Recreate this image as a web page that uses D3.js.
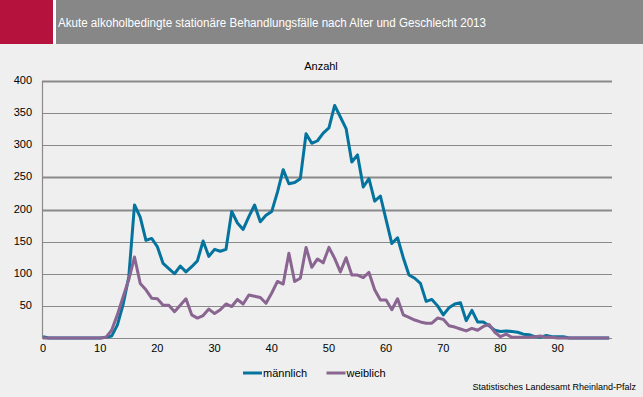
<!DOCTYPE html>
<html>
<head>
<meta charset="utf-8">
<script src="https://cdn.jsdelivr.net/npm/d3@7"></script>
<style>
    body { margin: 0; background: #eeefee; }
    svg { display: block; font-family: "Liberation Sans", Arial, sans-serif; }
</style>
</head>
<body>
<script>
// Data: cases per age (0..99), 2013
const ages = d3.range(0, 100);
const maennlich = [
    2, 0, 0, 0, 0, 0, 0, 0, 0, 0,
    0, 1, 3, 20, 52, 95, 207, 188, 152, 155,
    142, 116, 108, 100, 112, 103, 111, 120, 151, 127,
    138, 135, 138, 197, 179, 169, 189, 207, 181, 191,
    197, 227, 262, 240, 242, 248, 318, 303, 307, 319,
    327, 362, 344, 326, 274, 285, 235, 248, 213, 221,
    184, 147, 156, 125, 98, 93, 85, 57, 60, 50,
    36, 47, 53, 55, 27, 43, 25, 25, 19, 12,
    10, 11, 10, 9, 6, 5, 2, 1, 4, 2,
    2, 2, 0, 0, 0, 0, 0, 0, 0, 0
];
const weiblich = [
    0, 0, 0, 0, 0, 0, 0, 0, 0, 0,
    0, 1, 12, 36, 64, 91, 126, 85, 75, 62,
    61, 51, 51, 41, 51, 61, 36, 31, 35, 45,
    38, 44, 53, 49, 60, 53, 67, 65, 63, 54,
    70, 88, 84, 132, 88, 93, 141, 110, 123, 117,
    141, 124, 103, 125, 98, 98, 94, 102, 75, 59,
    59, 44, 61, 36, 32, 28, 25, 23, 23, 31,
    29, 19, 17, 14, 11, 15, 12, 18, 21, 9,
    2, 6, 1, 1, 1, 1, 2, 3, 1, 1,
    0, 0, 0, 0, 0, 0, 0, 0, 0, 0
];
const series = [
    { name: "männlich", values: maennlich, color: "#04739e" },
    { name: "weiblich", values: weiblich, color: "#8a6591" }
];
const yTicks = [50, 100, 150, 200, 250, 300, 350, 400];
const xTicks = [0, 10, 20, 30, 40, 50, 60, 70, 80, 90];

const width = 643, height = 397;

const svg = d3.select("body")
    .append("svg")
    .attr("width", width)
    .attr("height", height);

svg.append("rect")
    .attr("width", width)
    .attr("height", height)
    .attr("fill", "#eeefee");

// Header band
svg.append("rect")
    .attr("width", width)
    .attr("height", 44)
    .attr("fill", "#878787");
svg.append("rect")
    .attr("width", 56)
    .attr("height", 44)
    .attr("fill", "#ffffff");
svg.append("rect")
    .attr("width", 53)
    .attr("height", 44)
    .attr("fill", "#b5123e");
svg.append("text")
    .attr("x", 58)
    .attr("y", 27)
    .attr("fill", "#ffffff")
    .style("font-size", "12px")
    .attr("textLength", 428)
    .attr("lengthAdjust", "spacingAndGlyphs")
    .text("Akute alkoholbedingte stationäre Behandlungsfälle nach Alter und Geschlecht 2013");

// Scales
const x = d3.scaleLinear().domain([0, 99.5]).range([43, 612]);
const y = d3.scaleLinear().domain([0, 400]).range([338, 81]);

// Gridlines
svg.append("g")
    .selectAll("line")
    .data(yTicks)
    .enter()
    .append("line")
    .attr("x1", 42)
    .attr("x2", 612)
    .attr("y1", d => Math.round(y(d)) + 0.5)
    .attr("y2", d => Math.round(y(d)) + 0.5)
    .attr("stroke", "#8a8a8a")
    .attr("stroke-width", d => (d === 400 || d === 250 || d === 200) ? 2 : 1.2);

// Axis lines
svg.append("line")
    .attr("x1", 42.5).attr("x2", 42.5)
    .attr("y1", y(400)).attr("y2", y(0))
    .attr("stroke", "#8a8a8a").attr("stroke-width", 1.2);
svg.append("line")
    .attr("x1", 42).attr("x2", 612)
    .attr("y1", y(0) + 0.5).attr("y2", y(0) + 0.5)
    .attr("stroke", "#8a8a8a").attr("stroke-width", 1.2);

// Axis labels
svg.append("g")
    .selectAll("text")
    .data(yTicks)
    .enter()
    .append("text")
    .attr("x", 32)
    .attr("y", d => y(d) + 3)
    .attr("text-anchor", "end")
    .style("font-size", "11px")
    .attr("fill", "#000")
    .text(d => d);

svg.append("g")
    .selectAll("text")
    .data(xTicks)
    .enter()
    .append("text")
    .attr("x", d => x(d))
    .attr("y", 352)
    .attr("text-anchor", "middle")
    .style("font-size", "11px")
    .attr("fill", "#000")
    .text(d => d);

svg.append("text")
    .attr("x", 321)
    .attr("y", 70)
    .attr("text-anchor", "middle")
    .style("font-size", "11px")
    .text("Anzahl");

// Lines
const line = d3.line()
    .x((d, i) => x(ages[i]))
    .y(d => y(d));

svg.append("g")
    .selectAll("path")
    .data(series)
    .enter()
    .append("path")
    .attr("d", d => line(d.values))
    .attr("fill", "none")
    .attr("stroke", d => d.color)
    .attr("stroke-width", 3)
    .attr("stroke-linejoin", "round");

// Legend
const legend = svg.selectAll(".legend")
    .data(series)
    .enter()
    .append("g")
    .attr("transform", (d, i) => `translate(${243 + i * 83.5},373)`);

legend.append("line")
    .attr("x1", 0).attr("x2", 19)
    .attr("stroke", d => d.color)
    .attr("stroke-width", 3);

legend.append("text")
    .attr("x", 20)
    .attr("y", 4)
    .style("font-size", "11px")
    .text(d => d.name);

// Source
svg.append("text")
    .attr("x", 636)
    .attr("y", 390)
    .attr("text-anchor", "end")
    .style("font-size", "9px")
    .text("Statistisches Landesamt Rheinland-Pfalz");
</script>
</body>
</html>
